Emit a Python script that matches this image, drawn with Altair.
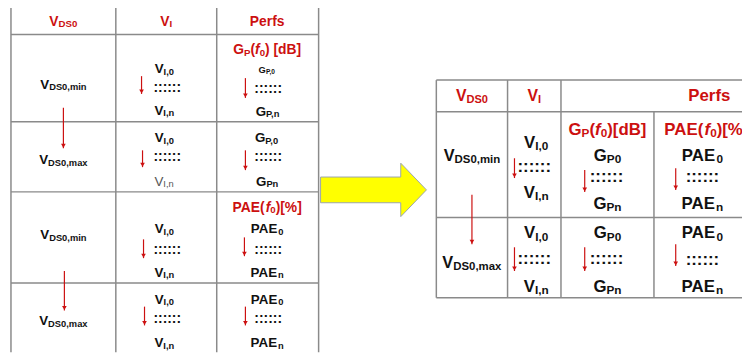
import altair as alt
import pandas as pd

RED = "#cc1010"
BLACK = "#111111"
GREY_TXT = "#555555"
LINE = "#8a8a8a"

# ---------------- text labels: markup "|" splits segments, "_" = subscript, "*" = italic
lab_text = [
    # left table
    "V|_DS0", "V|_I", "Perfs",
    "V|_DS0,min", "V|_I,0", "V|_I,n", "G|_P|(|*f|_0|) [dB]", "G|_P,0", "G|_P,n",
    "V|_DS0,max", "V|_I,0", "V|_I,n", "G|_P,0", "G|_Pn",
    "V|_DS0,min", "PAE(|*f|_0|)[%]", "V|_I,0", "PAE|_0", "V|_I,n", "PAE|_n",
    "V|_DS0,max", "V|_I,0", "V|_I,n", "PAE|_0", "PAE|_n",
    # right table
    "V|_DS0", "V|_I", "Perfs",
    "V|_DS0,min", "V|_I,0", "V|_I,n", "G|_P|(|*f|_0|)[dB]", "PAE(|*f|_0|)[%]",
    "G|_P0", "G|_Pn", "PAE|_0", "PAE|_n",
    "V|_DS0,max", "V|_I,0", "V|_I,n", "G|_P0", "G|_Pn", "PAE|_0", "PAE|_n",
]
lab_x = [
    64, 168, 270,
    64, 166, 166, 270, 270, 271,
    64, 166, 166, 270, 270,
    64, 270, 166, 270, 166, 270,
    64, 166, 166, 270, 270,
    477, 540, 717,
    477, 542, 542, 614, 714,
    614, 614, 710, 710,
    477, 542, 542, 614, 614, 710, 710,
]
lab_y = [
    19, 19, 19,
    83, 67, 109, 48, 68, 110,
    159, 137, 181, 137, 181,
    235, 207, 229, 229, 273, 273,
    322, 300, 344, 300, 344,
    94, 94, 94,
    155, 142, 192, 128, 128,
    155, 203, 155, 203,
    263, 233, 287, 233, 287, 233, 287,
]
lab_size = [
    14, 14, 14,
    13.5, 13.5, 13.5, 14, 9.5, 13.5,
    13.5, 13.5, 13.5, 13.5, 13.5,
    13.5, 14, 13.5, 13.5, 13.5, 13.5,
    13.5, 13.5, 13.5, 13.5, 13.5,
    16, 16, 17,
    16.5, 17, 17, 17, 17,
    17, 17, 17, 17,
    16.5, 17, 17, 17, 17, 17, 17,
]
lab_color = (
    ["r", "r", "r"] + ["k", "k", "k", "r", "k", "k"] + ["k", "k", "g", "k", "k"]
    + ["k", "r", "k", "k", "k", "k"] + ["k"] * 5
    + ["r", "r", "r"] + ["k", "k", "k", "r", "r"] + ["k"] * 4 + ["k"] * 7
)

# dotted "::::::" marks
dot_x = [169, 271, 169, 271, 169, 271, 169, 271, 540, 613, 710, 540, 613, 710]
dot_y = [87, 88, 157, 157, 251, 251, 321, 321, 167, 178, 178, 260, 260, 262]
dot_size = [14] * 8 + [17] * 6

# small red arrows (x, y start, y end)
arr_x = [64, 143, 248, 144, 248, 65, 145, 247, 146, 248,
         477, 520, 591, 683, 520, 591, 683]
arr_y1 = [107, 75, 77, 150, 150, 272, 240, 238, 308, 308,
          195, 158, 170, 168, 248, 248, 245]
arr_y2 = [148, 93, 97, 167, 170, 312, 259, 257, 327, 327,
          245, 178, 192, 190, 272, 272, 267]

# table grid lines
h_x1 = [11, 11, 11, 11, 11, 441, 441, 441, 441]
h_x2 = [322, 322, 322, 322, 322, 750, 750, 750, 750]
h_y = [5, 33, 121, 192, 284, 79, 111, 218, 299]
v_x = [11, 117, 219, 322, 441, 513, 567, 661]
v_y1 = [5, 5, 5, 5, 79, 79, 79, 111]
v_y2 = [354, 354, 354, 354, 299, 299, 299, 299]

# big yellow arrow outline (x, top, bottom)
ya_x = [324, 405, 405.05, 431]
ya_top = [177, 177, 163, 190]
ya_bot = [203, 203, 217, 190]

# --------------------------------------------------------------------------
W = {'V': 667, 'D': 722, 'S': 667, '0': 556, ',': 278, 'm': 889, 'i': 278, 'n': 611,
     'a': 556, 'x': 556, 'I': 278, 'P': 667, 'e': 556, 'r': 389, 'f': 333, 's': 556,
     'G': 778, '(': 333, ')': 333, ' ': 278, '[': 333, ']': 333, 'd': 611, 'B': 722,
     'A': 722, 'E': 667, '%': 889, ':': 333}


def width(s, size):
    return sum(W.get(c, 600) for c in s) * size / 1000.0


cmap = {"r": RED, "k": BLACK, "g": GREY_TXT}
rows = []
for t, cx, cy, s, c in zip(lab_text, lab_x, lab_y, lab_size, lab_color):
    segs = []
    for part in t.split("|"):
        sub = part.startswith("_")
        p = part[1:] if sub else part
        ital = p.startswith("*")
        p = p[1:] if ital else p
        segs.append((p, sub, ital))
    sizes = [s * 0.7 if sub else s for _, sub, _ in segs]
    total = sum(width(p, sz) for (p, _, _), sz in zip(segs, sizes))
    x = cx - total / 2
    base = cy + 0.36 * s
    for (p, sub, ital), sz in zip(segs, sizes):
        style = "normal" if c == "g" else ("italic" if ital else "bold")
        rows.append(dict(x=x, y=base + (0.12 * s if sub else 0), t=p, size=sz,
                         color=cmap[c], style=style))
        x += width(p, sz)
txt = pd.DataFrame(rows)

dots = pd.DataFrame(dict(x=dot_x, y=[y + 0.26 * s for y, s in zip(dot_y, dot_size)],
                         size=dot_size, t="::::::"))
arrows = pd.DataFrame(dict(x=arr_x, y=arr_y1, y2=arr_y2))
heads = pd.DataFrame(dict(x=arr_x, y=[v - 2.5 for v in arr_y2]))
hlines = pd.DataFrame(dict(x=h_x1, x2=h_x2, y=h_y, c=["#bbbbbb"] + [LINE] * 8))
vlines = pd.DataFrame(dict(x=v_x, y=v_y1, y2=v_y2))
yarrow = pd.DataFrame(dict(x=ya_x, y=ya_top, y2=ya_bot))

X = alt.X("x:Q", scale=alt.Scale(domain=[8, 750], range=[0, 742], nice=False, zero=False), axis=None)
Y = alt.Y("y:Q", scale=alt.Scale(domain=[8, 354], range=[0, 346], nice=False, zero=False), axis=None)

hl = alt.Chart(hlines).mark_rule(strokeWidth=1.5).encode(
    x=X, x2="x2:Q", y=Y, color=alt.Color("c:N", scale=None))
vl = alt.Chart(vlines).mark_rule(strokeWidth=1.5, color=LINE).encode(x=X, y=Y, y2="y2:Q")

ya = alt.Chart(yarrow).mark_area(fill="#ffff00", stroke="#9aa4ad", strokeWidth=1,
                                 opacity=1, fillOpacity=1).encode(
    x=X, y=Y, y2="y2:Q")

ar = alt.Chart(arrows).mark_rule(color=RED, strokeWidth=1.2).encode(x=X, y=Y, y2="y2:Q")
ah = alt.Chart(heads).mark_point(shape="triangle-down", filled=True, color=RED,
                                 size=22, opacity=1).encode(x=X, y=Y)

layers = [hl, vl, ya, ar, ah]
for style, weight, fstyle in [("bold", "bold", "normal"), ("italic", "bold", "italic"),
                              ("normal", "normal", "normal")]:
    layers.append(
        alt.Chart(txt).transform_filter(alt.datum.style == style).mark_text(
            align="left", baseline="alphabetic", font="Liberation Sans",
            fontWeight=weight, fontStyle=fstyle).encode(
            x=X, y=Y, text="t:N",
            size=alt.Size("size:Q", scale=None),
            color=alt.Color("color:N", scale=None)))
layers.append(
    alt.Chart(dots).mark_text(align="center", baseline="alphabetic", font="Liberation Sans",
                              fontWeight="bold", color=BLACK).encode(
        x=X, y=Y, text="t:N", size=alt.Size("size:Q", scale=None)))

chart = alt.layer(*layers).properties(
    width=742, height=346, padding=0, autosize=alt.AutoSizeParams(type="none")
).configure_view(stroke=None)

chart.save("out.html", embed_options={"renderer": "svg", "actions": False})
